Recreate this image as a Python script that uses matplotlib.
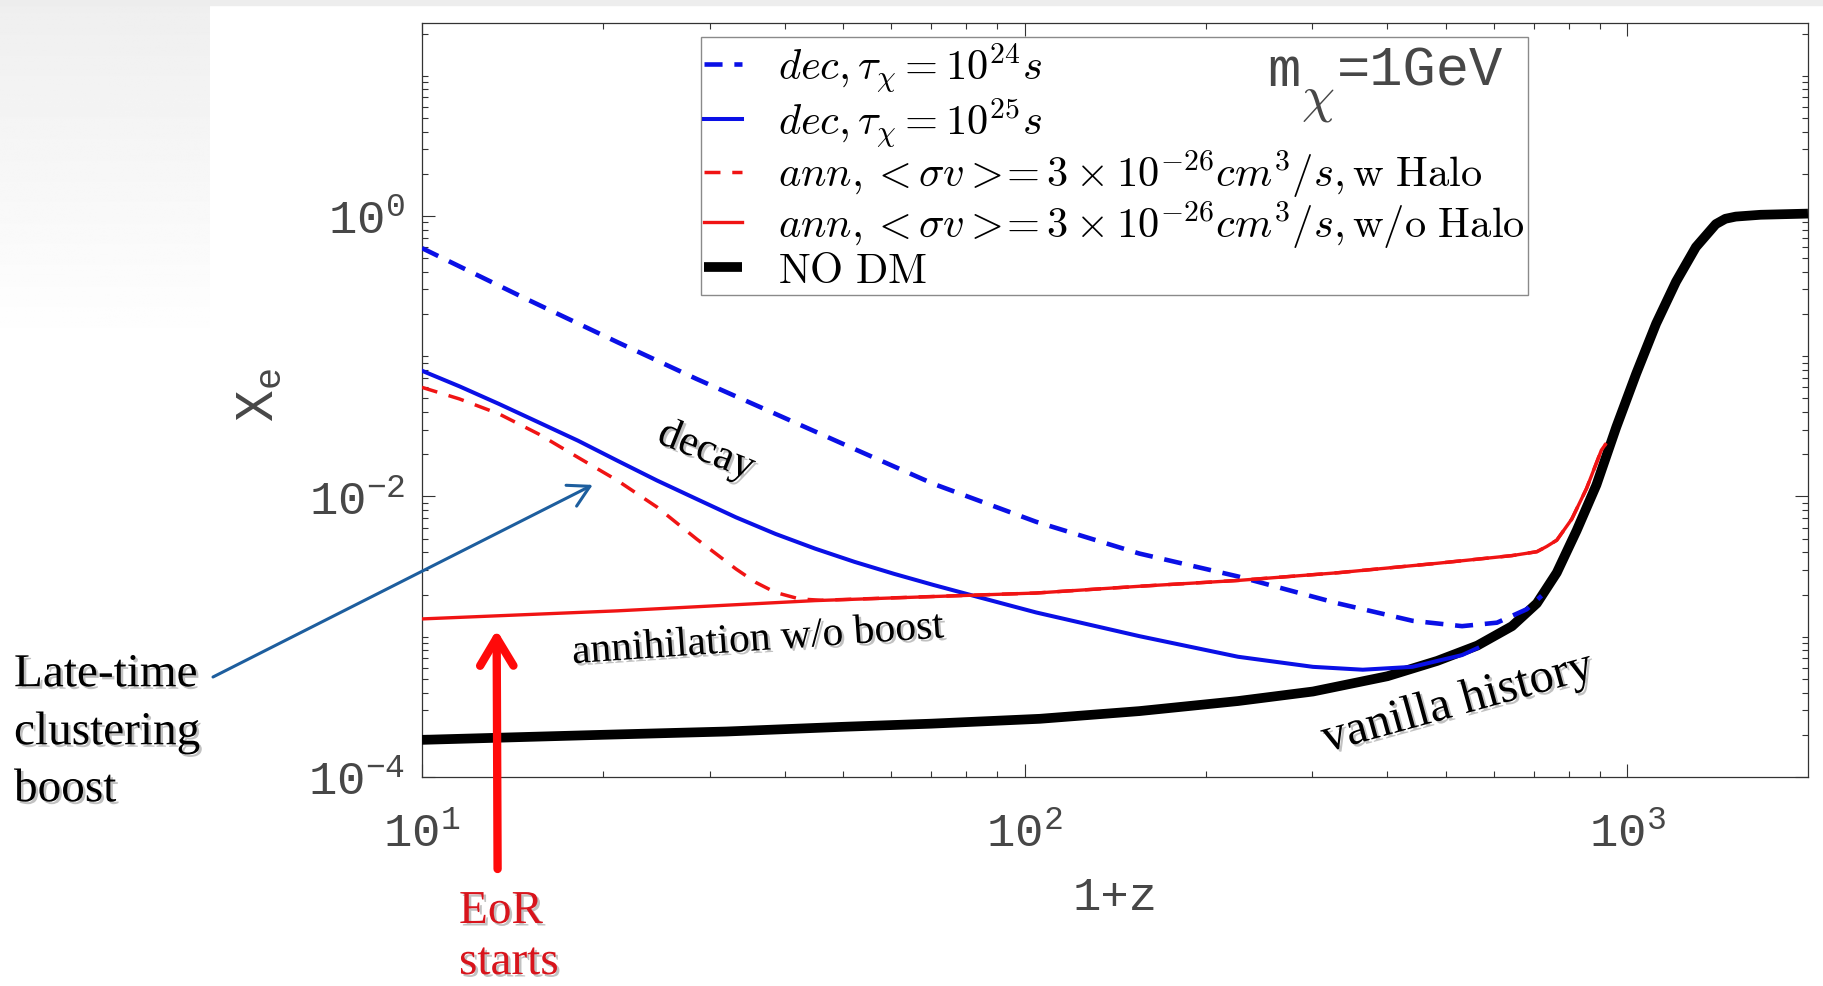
import numpy as np
import matplotlib
matplotlib.use("Agg")
import matplotlib.pyplot as plt
import matplotlib.patheffects as pe
from matplotlib.ticker import LogLocator, FixedLocator, FuncFormatter, NullFormatter
from matplotlib.patches import Rectangle

plt.rcParams['mathtext.fontset'] = 'cm'
plt.rcParams['lines.scale_dashes'] = False

# ---------------- data (1+z, x_e) ----------------
z_nodm = [10, 20, 32, 50, 70, 106, 155, 226, 301, 400, 484, 564, 644, 708, 764, 824,
          889, 959, 1035, 1117, 1205, 1300, 1403, 1455, 1514, 1664, 1995]
xe_nodm = [1.84e-4, 2.0e-4, 2.11e-4, 2.28e-4, 2.4e-4, 2.6e-4, 2.95e-4, 3.48e-4,
           4.07e-4, 5.23e-4, 6.73e-4, 8.65e-4, 1.19e-3, 1.73e-3, 2.86e-3, 5.7e-3,
           0.0121, 0.0312, 0.0752, 0.171, 0.34, 0.60, 0.875, 0.955, 0.99, 1.02, 1.04]

z_ann = [10, 21.1, 44.9, 104.5, 155, 226, 331, 484, 644, 708, 735, 764, 809, 856, 906,
         920]
xe_ann = [1.34e-3, 1.53e-3, 1.81e-3, 2.05e-3, 2.29e-3, 2.52e-3, 2.86e-3, 3.34e-3,
          3.79e-3, 4.04e-3, 4.4e-3, 4.88e-3, 6.9e-3, 0.0114, 0.0214, 0.0235]

z_annh = [10, 11.54, 13.42, 15.61, 18.15, 21.1, 24.55, 28.55, 33.2, 35.8, 38.6, 42.3,
          46, 104.5, 155, 226, 331, 484, 644, 708, 735, 764, 809, 856, 906, 920]
xe_annh = [0.060, 0.0496, 0.0388, 0.0279, 0.019, 0.013, 8.4e-3, 4.98e-3, 3.04e-3,
           2.44e-3, 2.07e-3, 1.86e-3, 1.82e-3, 2.05e-3, 2.29e-3, 2.52e-3, 2.86e-3,
           3.34e-3, 3.79e-3, 4.04e-3, 4.4e-3, 4.88e-3, 6.9e-3, 0.0114, 0.0214, 0.0235]

z_dec25 = [10, 11.54, 13.42, 15.61, 18.15, 21.1, 24.55, 28.55, 33.2, 38.6, 44.9, 52.2,
           60.7, 70.6, 84.5, 104.5, 155, 226, 301, 364, 440, 532, 564]
xe_dec25 = [0.0788, 0.061, 0.0457, 0.0338, 0.025, 0.018, 0.013, 9.6e-3, 7.1e-3, 5.41e-3,
            4.25e-3, 3.42e-3, 2.81e-3, 2.34e-3, 1.9e-3, 1.49e-3, 1.01e-3, 7.2e-4, 6.1e-4,
            5.82e-4, 6.1e-4, 7.4e-4, 8.3e-4]

z_dec24 = [10, 14.9, 21.1, 28.55, 38.6, 52.2, 70.6, 104.5, 155, 226, 331, 440, 532, 608,
           681, 721]
xe_dec24 = [0.59, 0.256, 0.126, 0.0689, 0.0388, 0.0218, 0.0123, 6.6e-3, 3.92e-3, 2.69e-3,
            1.73e-3, 1.3e-3, 1.19e-3, 1.26e-3, 1.57e-3, 1.96e-3]

labels = [r'$dec, \tau_\chi = 10^{24} s$',
          r'$dec, \tau_\chi = 10^{25} s$',
          r'$ann, < \sigma v >\!\!= 3 \times 10^{-26} cm^3/s, \mathrm{w\ Halo}$',
          r'$ann, < \sigma v >\!\!= 3 \times 10^{-26} cm^3/s, \mathrm{w/o\ Halo}$',
          r'$\mathrm{NO\ DM}$']

BLUE = '#0a10e6'
RED = '#f01414'
GREY_TXT = '#474747'

W, H = 1823, 987
fig = plt.figure(figsize=(W / 100, H / 100), dpi=100)
fig.patch.set_facecolor('white')

# slide background pieces
bg = fig.add_axes([0, 1 - 350 / H, 210 / W, 350 / H], zorder=-10)
grad = np.linspace(0.935, 1.0, 256).reshape(-1, 1)
bg.imshow(grad, aspect='auto', cmap='gray', vmin=0, vmax=1, extent=[0, 1, 0, 1], origin='upper')
bg.axis('off')
fig.patches.append(Rectangle((0, 1 - 6 / H), 1, 6 / H, transform=fig.transFigure,
                             color='#ededed', zorder=-9))

ax = fig.add_axes([422 / W, 1 - 778 / H, 1386 / W, 754 / H])
ax.set_xscale('log')
ax.set_yscale('log')

l5, = ax.plot(z_nodm, xe_nodm, color='black', lw=7.0, zorder=3, solid_capstyle='butt',
              solid_joinstyle='round')
l1, = ax.plot(z_dec24, xe_dec24, color=BLUE, lw=3.3, dashes=(13, 8.5), zorder=4)
l2, = ax.plot(z_dec25, xe_dec25, color=BLUE, lw=2.9, zorder=4)
l3, = ax.plot(z_annh, xe_annh, color=RED, lw=2.5, dashes=(11.5, 8.5), zorder=4)
l4, = ax.plot(z_ann, xe_ann, color=RED, lw=2.4, zorder=4)

ax.set_xlim(10, 10 ** 3.3)
ax.set_ylim(1e-4, 10 ** 1.376)

fmt = FuncFormatter(lambda v, p: r'$\mathregular{10^{%d}}$' % int(round(np.log10(v))))
ax.xaxis.set_major_locator(FixedLocator([10, 100, 1000]))
ax.xaxis.set_minor_locator(LogLocator(base=10, subs=np.arange(1, 10), numticks=60))
ax.yaxis.set_major_locator(FixedLocator([1e-4, 1e-2, 1e0]))
ax.yaxis.set_minor_locator(LogLocator(base=10, subs=np.arange(1, 10), numticks=60))
ax.xaxis.set_major_formatter(fmt)
ax.yaxis.set_major_formatter(fmt)
ax.xaxis.set_minor_formatter(NullFormatter())
ax.yaxis.set_minor_formatter(NullFormatter())

ax.tick_params(which='both', direction='in', top=True, right=True, color='#333333',
               labelcolor=GREY_TXT, labelsize=34, labelfontfamily='Liberation Mono')
ax.tick_params(which='major', length=9.5, width=0.8)
ax.tick_params(which='minor', length=4.5, width=0.8)
ax.tick_params(axis='x', which='major', pad=25)
ax.tick_params(axis='y', which='major', pad=12)
for s in ax.spines.values():
    s.set_color('#333333')
    s.set_linewidth(0.9)

ax.text(0.5, -0.159, '1+z', transform=ax.transAxes, ha='center', va='center',
        fontsize=34, family='Liberation Mono', color=GREY_TXT)
ax.text(-0.118, 0.508, r'$\mathregular{X_e}$', transform=ax.transAxes, ha='center',
        va='center', rotation=90, fontsize=38, family='Liberation Mono', color=GREY_TXT)

leg = ax.legend([l1, l2, l3, l4, l5], labels, loc='upper left',
                bbox_to_anchor=(0.2013, 0.9814), borderaxespad=0, fontsize=30.6,
                fancybox=False, edgecolor='#8a8a8a', framealpha=1,
                handlelength=0.88, handletextpad=0.84, labelspacing=-0.02, borderpad=0.08)
leg.get_frame().set_linewidth(1.0)
leg.set_zorder(6)

# m_chi = 1GeV
ax.text(0.6097, 0.9178, 'm', transform=ax.transAxes, fontsize=40,
        family='Liberation Mono', color=GREY_TXT, zorder=7)
ax.text(0.6345, 0.8833, r'$\chi$', transform=ax.transAxes, fontsize=38,
        color=GREY_TXT, zorder=7)
ax.text(0.660, 0.9178, '=1GeV', transform=ax.transAxes, fontsize=40,
        family='Liberation Mono', color=GREY_TXT, zorder=7)

# annotations
shadow = [pe.withSimplePatchShadow(offset=(1.8, -1.8), shadow_rgbFace='#777777', alpha=0.45)]
SER = 'Liberation Serif'


def ftext(xp, yp, s, **kw):
    return fig.text(xp / W, 1 - yp / H, s, family=SER, path_effects=shadow,
                    ha=kw.pop('ha', 'center'), va=kw.pop('va', 'center'),
                    rotation_mode='anchor', **kw)


ftext(706, 452, 'decay', fontsize=31, rotation=-22)
ftext(758, 641, 'annihilation w/o boost', fontsize=30, rotation=4)
ftext(1458, 704, 'vanilla history', fontsize=35, rotation=15.5)
ftext(14, 676, 'Late-time', fontsize=34, ha='left')
ftext(14, 734, 'clustering', fontsize=34, ha='left')
ftext(14, 791, 'boost', fontsize=34, ha='left')
ftext(459, 924, 'EoR', fontsize=34, ha='left', va='baseline', color='#d8141c')
ftext(459, 975, 'starts', fontsize=34, ha='left', va='baseline', color='#d8141c')

ax.annotate('', xy=(19.2, 0.0121), xycoords='data',
            xytext=(213 / W, 1 - 678 / H), textcoords='figure fraction',
            arrowprops=dict(arrowstyle='->,head_length=0.75,head_width=0.42',
                            color='#1d5e9e', lw=2.2, shrinkA=0, shrinkB=0,
                            mutation_scale=20),
            annotation_clip=False, zorder=8)
ax.annotate('', xy=(13.3, 1.12e-3), xycoords='data',
            xytext=(497.6 / W, 1 - 870 / H), textcoords='figure fraction',
            arrowprops=dict(arrowstyle='->,head_length=1.0,head_width=0.6',
                            color='#ff0a0a', lw=6, shrinkA=0, shrinkB=0,
                            mutation_scale=20),
            annotation_clip=False, zorder=8)

fig.savefig('out.png', dpi=100, facecolor='white')
